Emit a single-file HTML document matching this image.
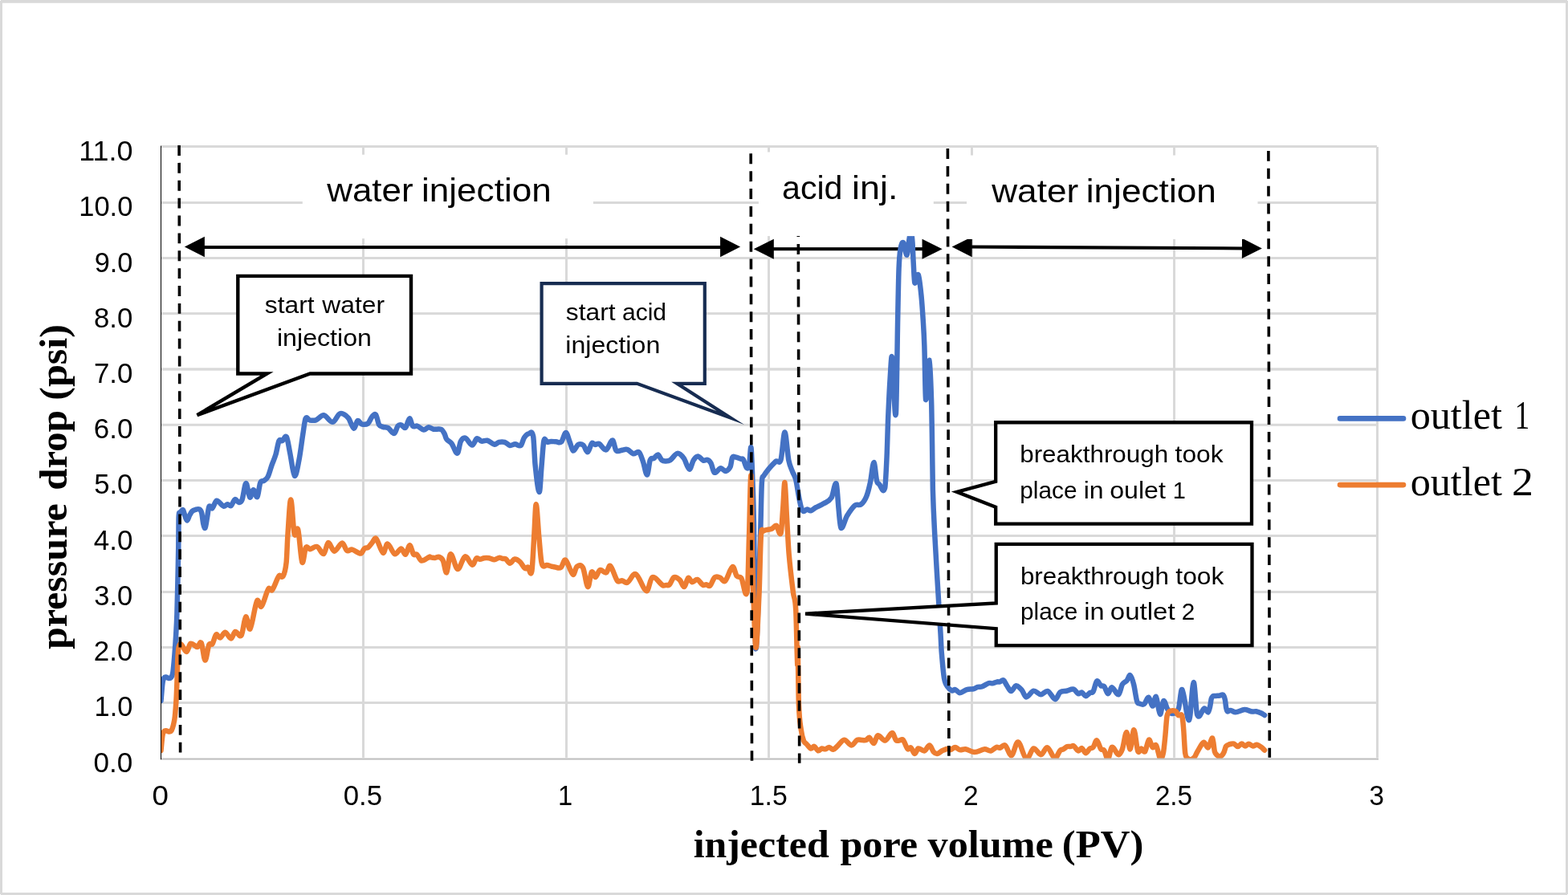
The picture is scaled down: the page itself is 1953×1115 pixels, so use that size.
<!DOCTYPE html>
<html lang="en"><head><meta charset="utf-8"><title>Pressure drop vs injected pore volume</title>
<style>
html,body{margin:0;padding:0;background:#fff}
body{width:1953px;height:1115px;overflow:hidden}
svg{display:block}
.s{font-family:"Liberation Sans",sans-serif;fill:#000}
.r{font-family:"Liberation Serif",serif;fill:#000}
.b{font-family:"Liberation Serif",serif;font-weight:bold;fill:#000}
.d{stroke:#000;stroke-width:3.6;stroke-dasharray:12.9 8.977;fill:none}
.c{fill:#fff;stroke:#000;stroke-width:4.3;stroke-linejoin:miter;stroke-miterlimit:10}
.w{fill:#fff}
.l{fill:none;stroke-width:6.5;stroke-linejoin:round;stroke-linecap:round}
.a{stroke:#000;stroke-width:4.3;fill:none}
</style></head><body>
<svg width="1953" height="1115" viewBox="0 0 1953 1115">
<rect x="0" y="0" width="1953" height="1115" fill="#fff"/>
<path fill="#d9d9d9" fill-rule="evenodd" d="M0 0H1953V1115H0ZM3 3.8V1112H1950V3.8Z"/>
<path fill="#fff" d="M0 0h1v1h-1zM1952 0h1v1h-1zM0 1114h1v1h-1zM1952 1114h1v1h-1z"/>
<g fill="#d9d9d9" shape-rendering="crispEdges">
<rect x="201" y="181" width="1514" height="3"/>
<rect x="201" y="251" width="1515" height="3"/>
<rect x="201" y="320" width="1515" height="3"/>
<rect x="201" y="389.1" width="1515" height="3" shape-rendering="auto"/>
<rect x="201" y="458.3" width="1515" height="3.4" shape-rendering="auto"/>
<rect x="201" y="527.8" width="1515" height="3" shape-rendering="auto"/>
<rect x="201" y="597" width="1515" height="3"/>
<rect x="201" y="666" width="1515" height="3"/>
<rect x="201" y="736" width="1515" height="3"/>
<rect x="201" y="805" width="1515" height="3"/>
<rect x="201" y="874" width="1515" height="3"/>
<rect x="451" y="184" width="3" height="760"/>
<rect x="704" y="184" width="3" height="760"/>
<rect x="956" y="184" width="3" height="760"/>
<rect x="1209" y="184" width="3" height="760"/>
<rect x="1461" y="184" width="3" height="760"/>
<rect x="1714" y="183" width="3" height="761"/>
</g>
<g fill="#000">
<rect x="250" y="306" width="652" height="4.05"/>
<path d="M229.85 307.55L254.9 320.25L254.9 294.85Z"/><path d="M922.1 307.55L897.05 294.85L897.05 320.25Z"/>
<rect x="960" y="308.15" width="193" height="4.05"/>
<path d="M938.7 310.3L963.8 322.8L963.8 297.8Z"/><path d="M1173.65 310.3L1148.55 297.8L1148.55 322.8Z"/>
<line class="a" style="stroke-width:4.1" x1="1206" y1="307.52" x2="1551" y2="309.46"/>
<path d="M1185.6 307.42L1210.63 320.16L1210.77 294.96Z"/><path d="M1571.85 309.6L1547.02 296.86L1546.88 322.06Z"/>
</g>
<clipPath id="pc"><rect x="200" y="170" width="1517" height="775.2"/></clipPath>
<g clip-path="url(#pc)">
<path class="l" stroke="#4472c4" d="M200.5 873C201.17 865.67 201.83 856.02 202.5 851C203.1 846.48 203.7 845.39 204.3 844.4C205.2 842.92 206.1 843.51 207 843.6C208 843.71 209 844.93 210 845C211 845.07 212 845.32 213 844C213.77 842.99 214.53 842.88 215.3 838C216 833.55 216.7 824.62 217.4 816C218 808.62 218.6 800.2 219.2 790C219.6 783.2 220 777.17 220.4 765C220.77 753.84 221.13 736.4 221.5 720C221.77 708.07 222.03 698.12 222.3 680C222.4 673.21 222.5 647.56 222.6 645.26C223.08 634.15 223.57 641.01 224.05 639.77C224.7 638.11 225.34 637.22 225.99 636.54C226.69 635.81 227.39 634.62 228.09 635.54C228.79 636.45 229.48 640.16 230.18 642.03C231.1 644.49 232.01 648.51 232.93 648.51C234.01 648.51 235.08 643.97 236.16 642.03C237.23 640.09 238.31 637.91 239.38 636.86C240.73 635.54 242.07 635.3 243.42 634.93C245.03 634.48 246.65 633.6 248.26 634.41C249.23 634.89 250.2 635.33 251.17 638.8C251.81 641.1 252.46 648.91 253.1 651.71C253.91 655.22 254.71 658.79 255.52 657.71C256.33 656.63 257.13 649.68 257.94 645.26C258.75 640.84 259.55 632.7 260.36 631.19C261.71 628.67 263.05 634.22 264.4 633.15C266.18 631.74 267.95 624.06 269.73 623.76C272.69 623.26 275.64 629.79 278.6 630.76C280.21 631.29 281.83 628.42 283.44 628.28C284.89 628.15 286.35 630.92 287.8 629.95C289.41 628.88 291.03 622.82 292.64 622.15C294.26 621.48 295.87 625.83 297.49 625.92C298.83 626 300.18 626.26 301.52 622.66C303.13 618.33 304.75 602.66 306.36 602.13C307.97 601.6 309.59 618.04 311.2 619.46C312.65 620.73 314.11 610.27 315.56 610.2C317.23 610.11 318.89 620.64 320.56 618.98C321.75 617.8 322.93 604.54 324.12 601.68C325.73 597.8 327.35 600.12 328.96 598.77C330.57 597.42 332.19 596.89 333.8 593.61C335.41 590.33 337.03 583.65 338.64 579.08C340.25 574.51 341.87 571.59 343.48 566.17C344.83 561.64 346.17 552.06 347.52 549.23C348.86 546.41 350.21 549.93 351.55 549.23C353.33 548.31 355.1 541.55 356.88 544.36C358.33 546.66 359.79 557.52 361.24 564.56C363.12 573.68 365.01 591.48 366.89 592.83C368.77 594.17 370.65 582.04 372.53 572.63C374.15 564.54 375.76 550.6 377.38 540.35C378.45 533.54 379.53 523.69 380.6 521.44C382.22 518.04 383.83 523.15 385.45 523.4C388.14 523.81 390.83 524.33 393.52 523.4C396.75 522.28 399.97 516.86 403.2 517.24C406.97 517.68 410.73 526.21 414.5 525.85C417.46 525.57 420.41 516.09 423.37 515.3C426.87 514.36 430.36 516.95 433.86 520.66C436.12 523.06 438.39 532.94 440.65 533.63C442.26 534.12 443.88 525.1 445.49 524.21C447.1 523.32 448.72 527.87 450.33 528.28C453.02 528.96 455.71 529.32 458.4 527.47C460.01 526.36 461.63 521.2 463.24 519.4C464.86 517.59 466.47 514.87 468.09 516.63C469.43 518.09 470.78 526.78 472.12 529.08C473.73 531.84 475.35 531.25 476.96 531.83C479.11 532.6 481.27 531.89 483.42 533.12C486 534.59 488.59 540.44 491.17 539.92C492.62 539.63 494.07 532.52 495.52 530.7C496.87 529.01 498.21 529.11 499.56 529.38C501.44 529.76 503.33 534.11 505.21 532.66C506.82 531.42 508.44 521.67 510.05 521.31C511.39 521.01 512.74 529.4 514.08 530.7C515.96 532.53 517.85 530.03 519.73 530.7C522.42 531.65 525.11 535.27 527.8 535.57C529.79 535.79 531.78 532.42 533.77 532.28C535.82 532.14 537.86 534.37 539.91 534.73C543.14 535.29 546.36 533.72 549.59 535.05C550.93 535.6 552.28 537.93 553.62 540.38C554.43 541.86 555.24 545.74 556.05 546.84C558.2 549.77 560.35 549.7 562.5 552.49C564.92 555.63 567.34 565.14 569.76 564.62C571.11 564.33 572.45 552.69 573.8 550.06C575.68 546.38 577.57 545.09 579.45 545.68C582.41 546.61 585.36 554.48 588.32 554.61C590.2 554.69 592.09 547.16 593.97 546.32C595.85 545.48 597.74 549.22 599.62 549.58C602.04 550.04 604.47 548.15 606.89 548.77C609.95 549.56 613.02 553.36 616.08 553.8C617.86 554.05 619.63 551.25 621.41 550.84C623.83 550.28 626.25 550.15 628.67 550.87C630.82 551.51 632.98 554.53 635.13 554.93C637.28 555.33 639.43 553.26 641.58 553.26C644 553.26 646.43 556.65 648.85 554.93C650.19 553.97 651.54 547.24 652.88 545.22C654.76 542.38 656.65 540.62 658.53 540.35C660.41 540.08 662.3 534.56 664.18 543.61C664.99 547.49 665.79 571.74 666.6 579.12C668.32 594.88 670.05 613.04 671.77 613.04C672.74 613.04 673.7 590.06 674.67 579.12C675.59 568.74 676.5 552.92 677.42 549.08C678.77 543.44 680.11 550.58 681.46 550.7C683.07 550.85 684.69 549.94 686.3 549.89C688.45 549.83 690.6 550.29 692.75 550.37C694.9 550.45 697.06 552.38 699.21 550.37C701.09 548.61 702.98 538.99 704.86 539.05C706.47 539.1 708.09 546.61 709.7 550.7C711.04 554.11 712.39 561.13 713.73 561.54C715.88 562.2 718.04 555.03 720.19 553.9C722.34 552.76 724.5 553.04 726.65 554.73C728.42 556.12 730.2 563.56 731.97 563.15C733.69 562.75 735.42 554.01 737.14 552.28C738.48 550.93 739.83 553.86 741.17 553.93C742.78 554.02 744.4 552.01 746.01 552.77C748.97 554.17 751.93 561.14 754.89 560.41C757.58 559.74 760.27 548.58 762.96 548.57C764.3 548.57 765.65 557.89 766.99 560.38C768.07 562.37 769.14 561.98 770.22 562.02C771.83 562.08 773.45 560.98 775.06 560.7C777.21 560.33 779.37 559.35 781.52 560.06C783.94 560.86 786.36 564.66 788.78 565.25C791.2 565.84 793.63 561.65 796.05 563.58C797.66 564.87 799.28 570.4 800.89 574.91C802.61 579.72 804.33 591.87 806.05 591.56C807.29 591.33 808.52 576.28 809.76 573.29C811.38 569.38 812.99 572 814.61 570.87C816.22 569.74 817.84 566.09 819.45 566.49C821.06 566.89 822.68 571.96 824.29 573.29C825.9 574.62 827.52 574.45 829.13 574.45C831.01 574.45 832.9 574.53 834.78 573.29C837.74 571.34 840.7 565.29 843.66 564.87C846.35 564.49 849.04 567.33 851.73 570.87C854.04 573.91 856.36 584.16 858.67 584.62C860.39 584.96 862.11 575.95 863.83 573.29C865.61 570.55 867.38 568.37 869.16 568.42C871.42 568.49 873.68 572.82 875.94 573.64C877.82 574.32 879.7 572.22 881.58 572.94C882.93 573.45 884.27 574.71 885.62 577.33C886.96 579.95 888.31 587.92 889.65 588.65C892.07 589.96 894.5 584.39 896.92 583.43C897.95 583.03 898.97 584.05 900 584.57C901.35 585.25 902.69 587.47 904.04 587.02C905.92 586.39 907.81 585.3 909.69 581.34C910.5 579.64 911.3 571.52 912.11 570.04C913.45 567.58 914.8 569.32 916.14 569.53C918.29 569.86 920.45 571 922.6 571.65C923.68 571.98 924.75 570.83 925.83 572.46C927.17 574.5 928.52 581.31 929.86 582.66C930.94 583.74 932.01 584.51 933.09 579.73C933.9 576.15 934.7 553.7 935.51 557.58C936.16 560.69 936.8 583.24 937.45 600.71C937.93 613.76 938.42 622.38 938.9 649.14C939.67 691.58 940.43 806.8 941.2 808.3C943.18 812.18 945.15 718.78 947.13 665.28C947.67 650.66 948.21 614.37 948.75 603.94C949.45 590.42 950.15 594.62 950.85 593.45C955.96 584.93 961.07 579.8 966.18 574.88C968.33 572.81 970.49 579.39 972.64 572.46C974.25 567.27 975.87 538.39 977.48 538.53C979.09 538.66 980.71 565.07 982.32 573.27C983.94 581.49 985.55 583.39 987.17 587.8C988.51 591.46 989.86 592.11 991.2 597.48C992.55 602.87 993.89 613.19 995.24 620.08C996.21 625.03 997.17 630.08 998.14 632.99C999.06 635.74 999.97 636.84 1000.89 637.06C1002.23 637.38 1003.58 634.74 1004.92 634.61C1006.54 634.46 1008.15 636.57 1009.77 636.22C1011.92 635.76 1014.07 633.37 1016.22 632.19C1019.45 630.41 1022.68 629.36 1025.91 627.34C1029.14 625.32 1032.36 625.12 1035.59 620.08C1037.64 616.88 1039.68 599.64 1041.73 602.62C1042.64 603.95 1043.56 623.85 1044.47 632.99C1045.39 642.16 1046.3 656.71 1047.22 657.56C1049.8 659.94 1052.38 646.79 1054.96 642.68C1058.19 637.53 1061.42 632.41 1064.65 629.77C1067.34 627.57 1070.03 630.24 1072.72 628.15C1074.87 626.48 1077.03 623.7 1079.18 618.47C1080.79 614.55 1082.41 608.13 1084.02 600.71C1085.47 594.02 1086.93 576.44 1088.38 576.15C1089.62 575.9 1090.85 593.99 1092.09 599.1C1093.02 602.95 1093.95 602.22 1094.88 603.03C1097.3 605.15 1099.73 616.39 1102.15 607.91C1102.96 605.09 1103.76 586.59 1104.57 569.14C1105.11 557.53 1105.64 533.61 1106.18 520.71C1106.99 501.32 1107.79 484.9 1108.6 472.28C1109.41 459.6 1110.22 439.95 1111.03 444.81C1112.64 454.49 1114.26 527.84 1115.87 515.9C1116.68 509.93 1117.48 430.5 1118.29 391.07C1118.72 370.05 1119.15 345.31 1119.58 334.57C1120.23 318.41 1120.87 314.17 1121.52 310.36C1122.7 303.4 1123.89 301.19 1125.07 302.26C1126.58 303.62 1128.08 318.31 1129.59 317.65C1130.5 317.25 1131.42 304.49 1132.33 299.06C1133.14 294.26 1133.94 286.33 1134.75 286.95C1135.34 287.4 1135.94 294.22 1136.53 302.28C1136.91 307.4 1137.28 319.66 1137.66 326.5C1138.2 336.24 1138.73 350.65 1139.27 352.03C1140.78 355.91 1142.28 339.52 1143.79 342.29C1144.97 344.46 1146.16 355.6 1147.34 366.85C1148.15 374.55 1148.96 386.19 1149.77 399.14C1150.31 407.72 1150.84 414.97 1151.38 431.42C1151.92 447.87 1152.45 496.37 1152.99 497.82C1154.61 502.18 1156.22 447.35 1157.84 448.85C1158.65 449.6 1159.45 478.56 1160.26 504.57C1160.53 513.28 1160.8 535.31 1161.07 552.99C1161.34 570.45 1161.6 600.6 1161.87 610C1162.68 638.44 1163.48 650.37 1164.29 666.5C1165.37 688.03 1166.44 704.7 1167.52 722.99C1168.87 745.86 1170.21 766.9 1171.56 789.98C1171.95 796.66 1172.34 807.44 1172.73 812.28C1173.81 825.64 1174.88 838.51 1175.96 844.56C1177.47 853.03 1178.97 853.4 1180.48 855.86C1182.2 858.68 1183.93 859.8 1185.65 860.4C1186.99 860.87 1188.34 858.7 1189.68 859.08C1191.56 859.62 1193.45 863.15 1195.33 863.15C1198.29 863.15 1201.25 859.93 1204.21 859.08C1206.9 858.31 1209.59 858.91 1212.28 858.28C1214.16 857.84 1216.05 856.35 1217.93 855.86C1219.54 855.44 1221.16 856.1 1222.77 855.53C1225.73 854.48 1228.69 851.91 1231.65 851.01C1233.26 850.52 1234.88 851.59 1236.49 851.34C1238.37 851.05 1240.26 849.81 1242.14 849.4C1243.21 849.17 1244.29 849.67 1245.36 849.4C1246.87 849.02 1248.37 846.61 1249.88 847.43C1251.33 848.22 1252.79 852.16 1254.24 854.24C1255.96 856.7 1257.69 861.05 1259.41 861.05C1261.45 861.04 1263.5 854.39 1265.54 854.21C1267.96 854 1270.38 857.15 1272.8 859.89C1274.58 861.9 1276.35 868.37 1278.13 868.47C1281.2 868.63 1284.26 861.21 1287.33 860.67C1290.4 860.13 1293.46 865.18 1296.53 865.24C1299.38 865.29 1302.23 860.04 1305.08 860.99C1308.2 862.03 1311.32 870.95 1314.44 871.22C1316.43 871.39 1318.42 863.8 1320.41 862.31C1323.1 860.29 1325.79 861.27 1328.48 860.7C1331.44 860.07 1334.4 858 1337.36 858.73C1339.24 859.19 1341.13 863.56 1343.01 864.28C1344.52 864.85 1346.02 862.14 1347.53 862.61C1349.09 863.1 1350.65 867.1 1352.21 867.18C1353.98 867.27 1355.76 864.2 1357.53 863.12C1358.88 862.3 1360.22 863.79 1361.57 861.5C1363.08 858.94 1364.58 849.69 1366.09 848.56C1367.81 847.27 1369.53 853.03 1371.25 854.24C1372.6 855.19 1373.94 853.53 1375.29 855.05C1376.9 856.87 1378.52 864.09 1380.13 864.28C1381.64 864.46 1383.14 856.04 1384.65 856.15C1387.55 856.36 1390.46 866.01 1393.36 865.24C1394.87 864.84 1396.37 855.22 1397.88 852.63C1399.76 849.4 1401.65 849.95 1403.53 847.79C1404.94 846.18 1406.34 840.51 1407.75 841.3C1409.2 842.12 1410.65 847.05 1412.1 852.63C1413.45 857.82 1414.79 869.19 1416.14 873.61C1417.22 877.15 1418.29 876.08 1419.37 876.51C1421.25 877.27 1423.14 878.49 1425.02 877.19C1426.9 875.9 1428.78 868.32 1430.66 868.74C1432.38 869.13 1434.11 879.76 1435.83 879.61C1437.17 879.49 1438.52 866.42 1439.86 867.93C1441.53 869.81 1443.2 888.83 1444.87 889.78C1446.32 890.61 1447.78 874.29 1449.23 873.26C1450.84 872.12 1452.46 880.8 1454.07 883.29C1455.84 886.03 1457.62 888.97 1459.39 888.97C1462.19 888.97 1464.99 889.78 1467.79 883.29C1469.29 879.81 1470.8 857.52 1472.3 859.06C1475.26 862.1 1478.22 898.87 1481.18 897.04C1483.01 895.91 1484.84 851.36 1486.67 850.18C1488.18 849.21 1489.68 886.95 1491.19 890.58C1494.15 897.71 1497.1 883.15 1500.06 882.46C1501.68 882.08 1503.29 887.91 1504.91 887.36C1505.66 887.11 1506.42 883.37 1507.17 880.06C1507.71 877.71 1508.24 872.31 1508.78 870.38C1509.43 868.06 1510.07 867.83 1510.72 867.31C1511.47 866.7 1512.23 867.06 1512.98 866.99C1514.05 866.9 1515.13 866.91 1516.2 866.83C1517.28 866.75 1518.35 866.66 1519.43 866.51C1520.78 866.32 1522.12 864.69 1523.47 865.83C1524.28 866.51 1525.08 868.54 1525.89 871.99C1526.32 873.83 1526.75 879.45 1527.18 881.68C1527.66 884.19 1528.15 885.95 1528.63 886.23C1529.98 887.01 1531.32 884.73 1532.67 884.88C1534.71 885.11 1536.76 887.45 1538.8 887.36C1542.57 887.18 1546.33 884.22 1550.1 884.07C1553.33 883.94 1556.55 886.05 1559.78 886.52C1561.39 886.76 1563.01 885.92 1564.62 886.2C1566.77 886.57 1568.93 887.47 1571.08 888.46C1572.42 889.08 1573.77 890.18 1575.11 891.04"/>
<path class="l" stroke="#ed7d31" d="M200.5 935C201.17 928.67 201.83 920 202.5 916C203.17 912 203.83 911.75 204.5 911C205.5 909.88 206.5 910.32 207.5 910.4C208.67 910.49 209.83 911.58 211 911.5C211.87 911.44 212.73 911.47 213.6 910C214.4 908.64 215.2 906.24 216 903C216.6 900.57 217.2 898.5 217.8 893C218.4 887.5 219 880.29 219.6 870C219.93 864.29 220.27 854.26 220.6 845C220.87 837.59 221.13 825.2 221.4 820C221.8 812.2 222.2 807.62 222.6 806C223.62 801.87 224.64 802.12 225.66 802.74C227.92 804.12 230.18 812.18 232.44 811.99C234.06 811.86 235.67 802.49 237.29 801.77C240.14 800.5 242.99 806.19 245.84 806.02C247.45 805.92 249.07 798.22 250.68 800.96C252.29 803.7 253.91 822.12 255.52 822.48C257.13 822.84 258.75 806.76 260.36 803.09C261.71 800.03 263.05 804.17 264.4 802.28C266.01 800.02 267.63 791.92 269.24 790.63C270.85 789.34 272.47 794.97 274.08 794.56C276.23 794.01 278.39 787.58 280.54 787.73C282.96 787.9 285.38 795.69 287.8 795.53C289.52 795.42 291.25 787.48 292.97 786.92C295.55 786.08 298.13 794.95 300.71 791.33C302.52 788.79 304.33 769.77 306.14 768.46C307.92 767.17 309.69 786.06 311.47 783.53C314.37 779.39 317.28 754.22 320.18 748.45C321.96 744.92 323.73 757.49 325.51 755.61C328.47 752.48 331.42 737.97 334.38 733.44C335.89 731.13 337.39 736.95 338.9 735.11C341.81 731.57 344.71 720.96 347.62 717.3C349.29 715.2 350.95 720.96 352.62 717.84C353.97 715.32 355.31 712.28 356.66 700.38C357.25 695.17 357.84 674.89 358.43 666.49C359.67 648.89 360.9 622.59 362.14 622.4C363.65 622.17 365.15 659.01 366.66 665.22C368.17 671.43 369.67 654.21 371.18 659.68C372.9 665.94 374.63 696.39 376.35 700.41C377.86 703.92 379.36 684.8 380.87 682.28C382.59 679.41 384.31 684.4 386.03 684.24C388.99 683.97 391.95 680.05 394.91 681.01C397.76 681.94 400.61 690.93 403.46 689.92C405.18 689.31 406.9 676.57 408.62 676.14C411.2 675.49 413.79 686.64 416.37 686.69C419.71 686.75 423.04 676.64 426.38 676.47C428.26 676.37 430.15 684.62 432.03 685.88C434.18 687.32 436.33 684.1 438.48 684.56C442.14 685.34 445.8 689.87 449.46 689.6C450.91 689.49 452.37 684.66 453.82 683.43C455.43 682.07 457.05 683.03 458.66 681.82C460.27 680.61 461.89 678 463.5 676.17C465.11 674.34 466.73 669.34 468.34 670.82C471.3 673.54 474.26 687.41 477.22 688.79C478.99 689.62 480.77 677.25 482.54 677.43C485.61 677.74 488.67 689.18 491.74 690.24C494.43 691.17 497.12 683.31 499.81 683.41C501.59 683.47 503.36 691.41 505.14 690.73C506.86 690.07 508.58 679.38 510.3 679.37C511.92 679.37 513.53 688.64 515.15 690.7C516.49 692.41 517.84 689.62 519.18 690.7C521.06 692.21 522.95 698.13 524.83 698.47C528.33 699.1 531.82 694.82 535.32 693.6C535.7 693.47 536.08 694.35 536.46 694.42C538.34 694.78 540.22 694.99 542.1 694.9C543.72 694.82 545.33 693.31 546.95 693.9C548.56 694.49 550.18 695.1 551.79 698.45C553.3 701.58 554.8 714.66 556.31 713.33C557.87 711.96 559.43 690.85 560.99 690.35C564 689.39 567.02 708.49 570.03 708.97C573.1 709.46 576.16 694.11 579.23 693.26C582.35 692.39 585.47 703.3 588.59 703.8C590.15 704.05 591.71 696.7 593.27 695.52C594.78 694.38 596.28 696.89 597.79 696.84C599.51 696.78 601.23 695.44 602.95 695.19C604.99 694.9 607.04 694.9 609.08 695.22C611.34 695.57 613.6 697.25 615.86 697.19C617.8 697.14 619.73 695.08 621.67 694.87C623.28 694.69 624.9 695.72 626.51 696.03C627.69 696.26 628.88 695.69 630.06 696.49C631.68 697.58 633.29 701.71 634.91 701.71C636.95 701.71 639 696.75 641.04 696.49C643.3 696.2 645.56 698.02 647.82 700.06C649.86 701.91 651.91 706.8 653.95 708.16C655.13 708.95 656.32 705.99 657.5 706.49C659.11 707.17 660.73 719.77 662.34 711.71C663.31 706.87 664.28 682.98 665.25 667.79C666.06 655.15 666.86 628.22 667.67 628.22C668.85 628.22 670.04 654.93 671.22 667.79C672.19 678.34 673.16 691.63 674.13 698.45C674.94 704.12 675.74 704.59 676.55 705.26C678 706.46 679.45 704.01 680.9 704.07C683.05 704.16 685.21 705.21 687.36 705.71C688.7 706.02 690.05 706.39 691.39 706.52C693.81 706.76 696.24 708.51 698.66 706.84C700.54 705.54 702.43 696.5 704.31 697.62C707.43 699.47 710.55 713.91 713.67 715.75C715.28 716.7 716.9 707.1 718.51 706.01C721.04 704.3 723.56 702.71 726.09 707.33C728.14 711.07 730.18 730.08 732.23 731.08C733.79 731.84 735.35 714.61 736.91 712.63C738.52 710.58 740.14 719.37 741.75 718.98C743.53 718.56 745.3 710.95 747.08 710.2C749.77 709.07 752.46 714.44 755.15 713.33C756.76 712.67 758.38 703.69 759.99 704.88C762.95 707.07 765.9 719.46 768.86 723.47C770.48 725.66 772.09 723.52 773.71 723.47C774.09 723.46 774.46 723.18 774.84 723.29C776.99 723.93 779.15 726.74 781.3 725.71C784.8 724.04 788.29 713.67 791.79 715.19C796.36 717.18 800.94 735.33 805.51 736.23C807.77 736.68 810.03 720.01 812.29 719.23C816.75 717.69 821.22 726.8 825.68 729.29C827.03 730.04 828.37 729.08 829.72 728.94C831.06 728.81 832.41 729.83 833.75 728.48C835.63 726.59 837.52 720.1 839.4 719.23C841.82 718.11 844.24 720.27 846.66 722.49C848.54 724.22 850.43 731.51 852.31 731.07C853.92 730.69 855.54 721.01 857.15 720.04C858.76 719.07 860.38 724.98 861.99 725.26C864.14 725.63 866.3 721.39 868.45 721.97C870.87 722.62 873.29 727.65 875.71 728.97C877.06 729.7 878.4 728 879.75 728.13C881.26 728.27 882.76 731.05 884.27 729.78C886.26 728.1 888.25 720.9 890.24 719.26C892.39 717.49 894.54 718.79 896.69 719.55C898.84 720.31 901 725.64 903.15 723.8C906.27 721.13 909.39 707.32 912.51 706C914.23 705.27 915.96 715.4 917.68 717.64C919.56 720.09 921.44 717.42 923.32 720.06C925.85 723.62 928.38 749.71 930.91 736.23C931.61 732.5 932.31 690.39 933.01 668.42C933.84 642.38 934.67 587.71 935.5 592.2C936 594.9 936.5 671.25 937 690C938.4 742.49 939.8 797.66 941.2 805.9C942.63 814.33 944.07 769.95 945.5 740C946.27 723.98 947.03 680.35 947.8 668C948.65 654.26 949.51 662.31 950.36 661.73C954.02 659.25 957.68 660.35 961.34 658.82C963.22 658.03 965.11 653.89 966.99 654.76C968.87 655.63 970.76 669 972.64 664.02C973.5 661.75 974.36 644.16 975.22 632.99C975.97 623.21 976.73 599.61 977.48 601.17C978.29 602.84 979.09 628.82 979.9 642.68C980.82 658.43 981.73 679.12 982.65 690C984.42 711.04 986.2 724.03 987.97 738.43C989.05 747.17 990.12 741.09 991.2 759.41C991.89 771.09 992.57 815.14 993.26 828.42C993.38 830.74 993.5 802.61 993.62 806.22C994.04 818.75 994.45 866.53 994.87 876.84C995.84 900.83 996.81 901.85 997.78 909.12C998.86 917.18 999.93 920.01 1001.01 922.83C1002.19 925.93 1003.38 925.62 1004.56 926.87C1006.44 928.86 1008.33 931.97 1010.21 932.55C1011.45 932.93 1012.68 929.37 1013.92 929.75C1015.64 930.28 1017.36 934.8 1019.08 935.29C1020.59 935.72 1022.09 932.82 1023.6 932.49C1025.05 932.17 1026.51 933.6 1027.96 933.35C1029.57 933.07 1031.19 930.8 1032.8 930.88C1034.41 930.96 1036.03 934.08 1037.64 933.84C1039.52 933.55 1041.41 930.96 1043.29 929.29C1045.98 926.91 1048.67 921.8 1051.36 921.68C1054.48 921.54 1057.6 928.44 1060.72 928.51C1062.98 928.56 1065.24 923.14 1067.5 922.03C1069.65 920.98 1071.81 922.03 1073.96 922.03C1075.57 922.03 1077.19 922.62 1078.8 922.03C1080.14 921.54 1081.49 918.21 1082.83 918.77C1084.71 919.56 1086.6 926.54 1088.48 926.09C1089.99 925.73 1091.49 916.73 1093 916.35C1096.23 915.54 1099.46 923.11 1102.69 922.54C1105.59 922.03 1108.5 913.23 1111.4 913.12C1112.91 913.06 1114.41 920.37 1115.92 922.03C1117.26 923.51 1118.61 922.59 1119.95 922.54C1121.57 922.48 1123.18 920.06 1124.8 921.68C1126.68 923.56 1128.57 931.15 1130.45 933.03C1131.79 934.37 1133.14 930.46 1134.48 931.36C1136.09 932.45 1137.71 938.8 1139.32 939C1140.77 939.18 1142.23 932.92 1143.68 932.49C1146.26 931.73 1148.85 936.18 1151.43 935.45C1153.58 934.84 1155.73 928.25 1157.88 928.46C1159.49 928.62 1161.11 934.73 1162.72 936.55C1164.23 938.25 1165.73 939.21 1167.24 939C1169.5 938.68 1171.76 935.93 1174.02 934.94C1176.71 933.77 1179.4 932.74 1182.09 932.52C1182.74 932.47 1183.38 934.27 1184.03 934.13C1185.91 933.72 1187.8 930.88 1189.68 930.88C1191.56 930.88 1193.45 933.77 1195.33 934.13C1197.75 934.59 1200.18 932.94 1202.6 933.32C1206.36 933.91 1210.13 937.06 1213.89 937.06C1218.09 937.06 1222.28 933.63 1226.48 933.3C1229.01 933.1 1231.54 935.86 1234.07 935.45C1236.49 935.06 1238.91 931.68 1241.33 930.88C1242.67 930.43 1244.02 932.02 1245.36 931.71C1247.51 931.21 1249.67 927.07 1251.82 928.46C1254.51 930.2 1257.2 941.77 1259.89 941.1C1262.58 940.43 1265.27 923.79 1267.96 924.42C1271.46 925.24 1274.95 944 1278.45 945.46C1281.41 946.69 1284.37 933.36 1287.33 932.49C1290.4 931.59 1293.46 940.33 1296.53 940.13C1299.22 939.95 1301.91 930.66 1304.6 931.36C1307.72 932.17 1310.84 943.94 1313.96 944.65C1316.11 945.14 1318.26 937.26 1320.41 934.94C1321.76 933.49 1323.1 934.06 1324.45 933.32C1326.06 932.44 1327.68 930.66 1329.29 930.07C1330.63 929.58 1331.98 930.23 1333.32 930.1C1334.67 929.96 1336.01 928.52 1337.36 929.26C1339.24 930.3 1341.13 934.94 1343.01 935.45C1344.52 935.86 1346.02 931.56 1347.53 932.01C1349.09 932.47 1350.65 938.11 1352.21 938.19C1353.98 938.28 1355.76 933.9 1357.53 932.52C1358.88 931.47 1360.22 932.5 1361.57 930.9C1363.08 929.1 1364.58 921.94 1366.09 922.32C1367.81 922.75 1369.53 930.96 1371.25 933.32C1372.6 935.17 1373.94 932.98 1375.29 934.94C1376.9 937.29 1378.52 946.96 1380.13 946.26C1381.64 945.61 1383.14 931.6 1384.65 930.88C1387.45 929.55 1390.24 939.61 1393.04 940.13C1394.65 940.43 1396.27 937.73 1397.88 933.32C1399.66 928.46 1401.43 912.31 1403.21 912.32C1404.66 912.32 1406.12 933.81 1407.57 933.35C1409.18 932.84 1410.8 909.01 1412.41 909.41C1414.02 909.81 1415.64 931.72 1417.25 935.77C1418.7 939.42 1420.16 932.41 1421.61 932.49C1423.12 932.57 1424.62 938 1426.13 936.26C1427.75 934.39 1429.37 922.6 1430.99 921.68C1432.5 920.82 1434 929.8 1435.51 930.93C1437.02 932.06 1438.52 926.2 1440.03 928.46C1441.75 931.04 1443.47 943.58 1445.19 945.46C1446.43 946.81 1447.66 943.87 1448.9 938.17C1449.71 934.45 1450.51 925.25 1451.32 917.19C1452.02 910.19 1452.72 897.8 1453.42 892.98C1454.17 887.79 1454.93 888.29 1455.68 887.17C1456.59 885.81 1457.51 885.8 1458.42 885.55C1459.66 885.21 1460.9 885.18 1462.14 885.39C1463.11 885.56 1464.07 885.65 1465.04 886.68C1465.85 887.54 1466.65 890.37 1467.46 891.04C1468.21 891.66 1468.97 890.59 1469.72 890.56C1470.42 890.53 1471.12 889.55 1471.82 890.88C1472.25 891.7 1472.68 893.77 1473.11 897.01C1473.49 899.85 1473.86 904.07 1474.24 909.12C1474.89 917.79 1475.53 933.43 1476.18 938.17C1477.15 945.26 1478.11 943.5 1479.08 944.62C1480.43 946.19 1481.77 946.48 1483.12 946.24C1484.73 945.95 1486.35 944.91 1487.96 943.01C1489.09 941.68 1490.22 938.36 1491.35 936.55C1493.99 932.32 1496.62 925.9 1499.26 924.9C1501.14 924.19 1503.03 932.38 1504.91 931.42C1506.52 930.6 1508.14 921.22 1509.75 919.58C1510.27 919.06 1510.78 922.2 1511.3 924.93C1511.83 927.75 1512.37 934.39 1512.9 936.23C1513.89 939.66 1514.89 939.69 1515.88 940.75C1516.96 941.9 1518.03 942.85 1519.11 942.85C1520.13 942.85 1521.16 941.86 1522.18 940.75C1522.99 939.87 1523.79 938.73 1524.6 936.88C1525.37 935.12 1526.13 931.26 1526.9 929.94C1527.85 928.3 1528.81 928.51 1529.76 928C1530.62 927.54 1531.48 927.21 1532.34 927.03C1533.85 926.72 1535.35 926.02 1536.86 926.52C1538.47 927.05 1540.09 930.12 1541.7 930.12C1543.32 930.12 1544.93 926.63 1546.55 926.52C1548 926.42 1549.45 929.43 1550.9 929.48C1552.35 929.53 1553.81 926.84 1555.26 926.84C1557.04 926.84 1558.81 929.31 1560.59 929.48C1562.2 929.63 1563.82 927.59 1565.43 927.81C1567.31 928.06 1569.2 929.58 1571.08 930.9C1572.42 931.85 1573.77 933.38 1575.11 934.62"/>
</g>
<rect x="200" y="944.5" width="1517" height="2.1" fill="#bfbfbf"/>
<rect x="200" y="181.6" width="1" height="764.6" fill="#000"/>
<g>
<path class="c" style="stroke-width:4.4" d="M296.3 343.9H512V465.45H386.2L245.5 517.2 332.6 465.45H296.3Z"/>
<path class="c" style="stroke:#172c51;stroke-width:4.2" d="M674.6 353.2H877.8V477.85H843.3L909.8 520.5 793.4 477.85H674.6Z"/>
<path class="c" d="M1240.2 526.25H1559V652.7H1240.2V631.8L1191.7 612.85 1240.2 599.8Z"/>
<path class="c" d="M1240.75 677.85H1559.5V804.1H1240.75V783.2L1003 764.6 1240.75 751.4Z"/>
</g>
<g>
<text class="s" y="389.8" font-size="29.5"><tspan x="329.88" textLength="61.78" lengthAdjust="spacingAndGlyphs">start</tspan> <tspan x="401.34" textLength="77.75" lengthAdjust="spacingAndGlyphs">water</tspan></text>
<text class="s" y="430.9" font-size="29.5"><tspan x="344.98" textLength="118" lengthAdjust="spacingAndGlyphs">injection</tspan></text>
<text class="s" y="398.9" font-size="29.5"><tspan x="704.88" textLength="61.78" lengthAdjust="spacingAndGlyphs">start</tspan> <tspan x="774.98" textLength="55.06" lengthAdjust="spacingAndGlyphs">acid</tspan></text>
<text class="s" y="440" font-size="29.5"><tspan x="704.31" textLength="117.99" lengthAdjust="spacingAndGlyphs">injection</tspan></text>
<text class="s" y="576.4" font-size="29.5"><tspan x="1270.2" textLength="185.04" lengthAdjust="spacingAndGlyphs">breakthrough</tspan> <tspan x="1463.62" textLength="60.02" lengthAdjust="spacingAndGlyphs">took</tspan></text>
<text class="s" y="620.9" font-size="29.5"><tspan x="1270.29" textLength="71.32" lengthAdjust="spacingAndGlyphs">place</tspan> <tspan x="1349.72" textLength="24.91" lengthAdjust="spacingAndGlyphs">in</tspan> <tspan x="1382.16" textLength="69.75" lengthAdjust="spacingAndGlyphs">oulet</tspan> <tspan x="1460.73" textLength="16.11" lengthAdjust="spacingAndGlyphs">1</tspan></text>
<text class="s" y="728.4" font-size="29.5"><tspan x="1270.92" textLength="185.07" lengthAdjust="spacingAndGlyphs">breakthrough</tspan> <tspan x="1464.32" textLength="60.02" lengthAdjust="spacingAndGlyphs">took</tspan></text>
<text class="s" y="772.2" font-size="29.5"><tspan x="1271.01" textLength="71.3" lengthAdjust="spacingAndGlyphs">place</tspan> <tspan x="1350.19" textLength="25.27" lengthAdjust="spacingAndGlyphs">in</tspan> <tspan x="1382.88" textLength="80.76" lengthAdjust="spacingAndGlyphs">outlet</tspan> <tspan x="1471.81" textLength="16.56" lengthAdjust="spacingAndGlyphs">2</tspan></text>
</g>
<rect class="w" x="376.8" y="192.7" width="362.1" height="104.45"/>
<rect class="w" x="944.9" y="189.5" width="217.9" height="104.6"/>
<rect class="w" x="1204.05" y="193.5" width="362.45" height="104.43"/>
<text class="s" y="250.8" font-size="40.5"><tspan x="407.22" textLength="107.36" lengthAdjust="spacingAndGlyphs">water</tspan> <tspan x="525.04" textLength="161.67" lengthAdjust="spacingAndGlyphs">injection</tspan></text>
<text class="s" y="247.7" font-size="40.5"><tspan x="974.02" textLength="75.47" lengthAdjust="spacingAndGlyphs">acid</tspan> <tspan x="1061.1" textLength="57.36" lengthAdjust="spacingAndGlyphs">inj.</tspan></text>
<text class="s" y="251.8" font-size="40.5"><tspan x="1235.2" textLength="107.98" lengthAdjust="spacingAndGlyphs">water</tspan> <tspan x="1352.73" textLength="162.13" lengthAdjust="spacingAndGlyphs">injection</tspan></text>
<g class="d">
<line x1="223.1" y1="181" x2="224.6" y2="937.5"/>
<line x1="935.2" y1="191.35" x2="936.5" y2="947.8"/>
<clipPath id="dc"><rect x="980" y="294.1" width="30" height="700"/></clipPath>
<line clip-path="url(#dc)" x1="994.3" y1="282.1" x2="995.7" y2="950.8"/>
<line x1="1180.4" y1="185.1" x2="1181.9" y2="941.8"/>
<line x1="1579.9" y1="187.9" x2="1581.3" y2="943.8"/>
</g>
<g>
<text class="s" x="116.59" y="961.7" font-size="34.3" textLength="48.74" lengthAdjust="spacingAndGlyphs">0.0</text>
<text class="s" x="117.56" y="892.46" font-size="34.3" textLength="47.75" lengthAdjust="spacingAndGlyphs">1.0</text>
<text class="s" x="116.75" y="823.21" font-size="34.3" textLength="48.58" lengthAdjust="spacingAndGlyphs">2.0</text>
<text class="s" x="117.37" y="753.97" font-size="34.3" textLength="47.94" lengthAdjust="spacingAndGlyphs">3.0</text>
<text class="s" x="116.74" y="684.72" font-size="34.3" textLength="48.59" lengthAdjust="spacingAndGlyphs">4.0</text>
<text class="s" x="117.19" y="615.48" font-size="34.3" textLength="48.13" lengthAdjust="spacingAndGlyphs">5.0</text>
<text class="s" x="116.75" y="546.23" font-size="34.3" textLength="48.58" lengthAdjust="spacingAndGlyphs">6.0</text>
<text class="s" x="116.95" y="476.99" font-size="34.3" textLength="48.37" lengthAdjust="spacingAndGlyphs">7.0</text>
<text class="s" x="117.03" y="407.74" font-size="34.3" textLength="48.29" lengthAdjust="spacingAndGlyphs">8.0</text>
<text class="s" x="117.72" y="338.5" font-size="34.3" textLength="47.58" lengthAdjust="spacingAndGlyphs">9.0</text>
<text class="s" x="98.32" y="269.25" font-size="34.3" textLength="67.03" lengthAdjust="spacingAndGlyphs">10.0</text>
<text class="s" x="98.21" y="200" font-size="34.3" textLength="67.22" lengthAdjust="spacingAndGlyphs">11.0</text>
<text class="s" x="189.42" y="1003" font-size="34.3" textLength="20.41" lengthAdjust="spacingAndGlyphs">0</text>
<text class="s" x="427.68" y="1003" font-size="34.3" textLength="48.31" lengthAdjust="spacingAndGlyphs">0.5</text>
<text class="s" x="694.95" y="1003" font-size="34.3" textLength="18.16" lengthAdjust="spacingAndGlyphs">1</text>
<text class="s" x="933.76" y="1003" font-size="34.3" textLength="46.99" lengthAdjust="spacingAndGlyphs">1.5</text>
<text class="s" x="1199.93" y="1003" font-size="34.3" textLength="18.62" lengthAdjust="spacingAndGlyphs">2</text>
<text class="s" x="1438.94" y="1003" font-size="34.3" textLength="46.09" lengthAdjust="spacingAndGlyphs">2.5</text>
<text class="s" x="1705.54" y="1003" font-size="34.3" textLength="18.42" lengthAdjust="spacingAndGlyphs">3</text>
</g>
<line class="l" stroke="#4472c4" style="stroke-width:6.6" x1="1669" y1="521.4" x2="1748" y2="521.4"/>
<line class="l" stroke="#ed7d31" style="stroke-width:6.6" x1="1669" y1="604.1" x2="1748" y2="604.1"/>
<text class="r" y="533.9" font-size="50"><tspan x="1756.67" textLength="114.34" lengthAdjust="spacingAndGlyphs">outlet</tspan> <tspan x="1886.62" textLength="18.73" lengthAdjust="spacingAndGlyphs">1</tspan></text>
<text class="r" y="616.96" font-size="50"><tspan x="1756.67" textLength="114.34" lengthAdjust="spacingAndGlyphs">outlet</tspan> <tspan x="1883.05" textLength="26.91" lengthAdjust="spacingAndGlyphs">2</tspan></text>
<text class="b" y="1068.3" font-size="49"><tspan x="863.65" textLength="168.98" lengthAdjust="spacingAndGlyphs">injected</tspan> <tspan x="1046.4" textLength="96.7" lengthAdjust="spacingAndGlyphs">pore</tspan> <tspan x="1155.6" textLength="156.2" lengthAdjust="spacingAndGlyphs">volume</tspan> <tspan x="1322.87" textLength="101.52" lengthAdjust="spacingAndGlyphs">(PV)</tspan></text>
<g transform="translate(83.2 0) rotate(-90)"><text class="b" y="0" font-size="49"><tspan x="-809.1" textLength="181.85" lengthAdjust="spacingAndGlyphs">pressure</tspan> <tspan x="-610.65" textLength="99.51" lengthAdjust="spacingAndGlyphs">drop</tspan> <tspan x="-498.81" textLength="94.83" lengthAdjust="spacingAndGlyphs">(psi)</tspan></text></g>
</svg>
</body></html>
